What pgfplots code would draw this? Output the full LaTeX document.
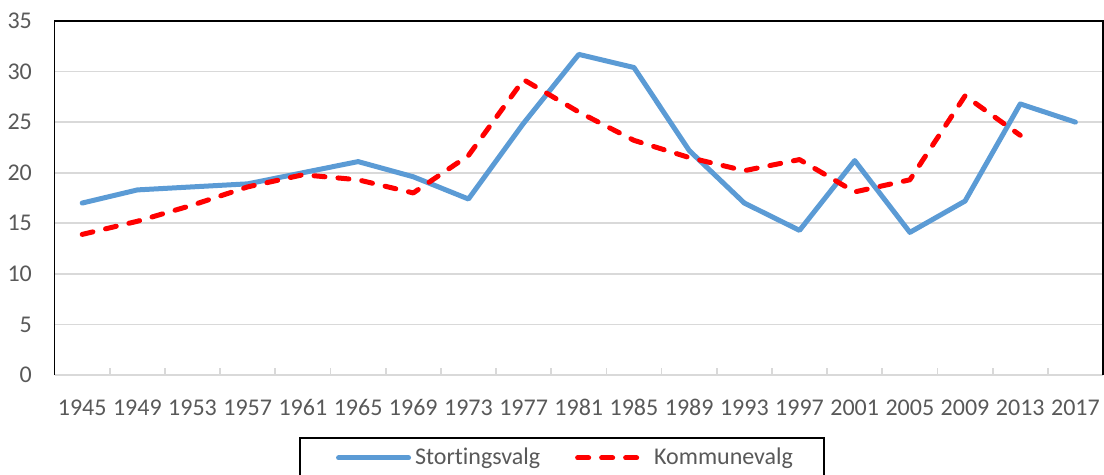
\documentclass[border=0pt]{standalone}
\usepackage{pgfplots}
\pgfplotsset{compat=1.18}
\usepackage{fontspec}
\setmainfont{Carlito}[Ligatures={NoCommon}]
\definecolor{stblue}{HTML}{5B9BD5}
\definecolor{kred}{HTML}{FF0000}
\definecolor{txtgray}{HTML}{595959}
\definecolor{gridgray}{HTML}{D9D9D9}

\begin{document}
\begin{tikzpicture}
\useasboundingbox (0,0) rectangle (552bp,237.5bp);
\begin{axis}[
  at={(27.3bp,50bp)}, anchor=south west,
  scale only axis, width=524.2bp, height=177bp,
  xmin=-0.5, xmax=18.5, ymin=0, ymax=35,
  xtick={0,...,18},
  xticklabels={1945,1949,1953,1957,1961,1965,1969,1973,1977,1981,1985,1989,1993,1997,2001,2005,2009,2013,2017},
  ytick={0,5,...,35},
  minor xtick={-0.5,0.5,...,18.5},
  major tick length=0pt, minor tick length=3.6bp,
  tick align=inside, xtick pos=bottom, ytick pos=left,
  minor tick style={draw=gridgray, line width=0.85bp},
  ymajorgrids, grid style={draw=gridgray, line width=0.85bp},
  axis line style={draw=none},
  clip=false,
  /pgf/number format/assume math mode=true,
  ticklabel style={font=\fontsize{12bp}{14bp}\selectfont, text=txtgray, inner sep=0pt},
  yticklabel style={anchor=east, xshift=-11.15bp},
  xticklabel style={anchor=north, yshift=-12.1bp},
  legend columns=2,
  legend style={at={(0.484,0)}, anchor=north, yshift=-31.15bp,
    draw=black, line width=0.8bp, font=\fontsize{12bp}{14bp}\selectfont,
    text=txtgray, inner xsep=13.5bp, inner ysep=3bp,
    /tikz/every even column/.append style={column sep=15.5bp}},
  legend image code/.code={\draw[#1] (0bp,0bp) -- (35bp,0bp);},
]
% Stortingsvalg
\addplot[stblue, line width=2.5bp, line cap=round, line join=round,
  legend image code/.code={\path (0bp,0bp); \draw[stblue, line width=2.5bp, line cap=round] (4.5bp,0bp) -- (39.5bp,0bp);}] coordinates {
  (0,17.0) (1,18.3) (2,18.6) (3,18.9) (4,20.0) (5,21.1) (6,19.6) (7,17.4)
  (8,24.9) (9,31.7) (10,30.4) (11,22.2) (12,17.0) (13,14.3) (14,21.2)
  (15,14.1) (16,17.2) (17,26.8) (18,25.0)};
\addlegendentry{Stortingsvalg}
% Kommunevalg
\addplot[kred, line width=2.5bp, line cap=round, line join=round, dash pattern=on 5.5bp off 6.5bp] coordinates {
  (0,13.9) (1,15.2) (2,16.8) (3,18.6) (4,19.8) (5,19.3) (6,18.0) (7,21.7)
  (8,29.2) (9,26.0) (10,23.2) (11,21.5) (12,20.2) (13,21.3) (14,18.1)
  (15,19.3) (16,27.6) (17,23.7)};
\addlegendentry{Kommunevalg}
\draw[gridgray, line width=0.85bp] (rel axis cs:0,0) -- (rel axis cs:1,0);
\draw[black, line width=0.85bp] (rel axis cs:0,0) -- (rel axis cs:0,1) -- (rel axis cs:1,1) -- (rel axis cs:1,0);
\end{axis}
\end{tikzpicture}
\end{document}
